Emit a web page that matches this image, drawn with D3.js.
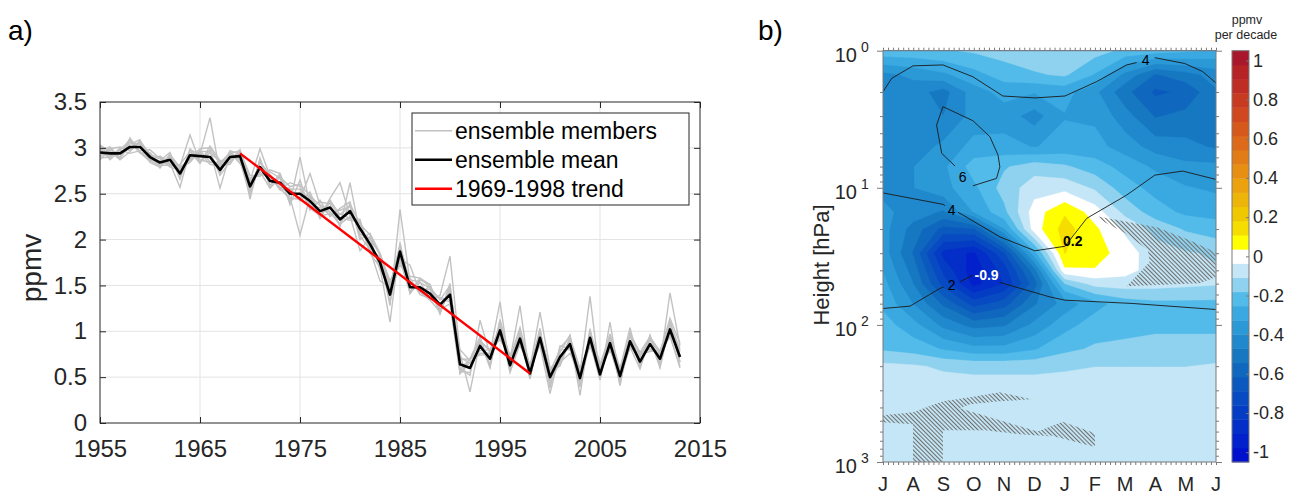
<!DOCTYPE html>
<html><head><meta charset="utf-8">
<script src="https://cdn.jsdelivr.net/npm/d3@7"></script>
<style>
body{margin:0;background:#fff;}
svg{display:block;}
text{font-family:"Liberation Sans",Arial,Helvetica,sans-serif;}
</style>
</head><body>
<svg id="chart" width="1289" height="495"></svg>
<script>
// ---------------- Panel a data ----------------
const years = d3.range(1955, 2014);
const ensembleMean = [
  2.95,2.94,2.94,3.01,3.01,2.90,2.84,2.87,2.72,2.92,
  2.91,2.90,2.76,2.90,2.91,2.58,2.79,2.64,2.62,2.50,
  2.50,2.42,2.31,2.35,2.22,2.31,2.12,1.95,1.75,1.40,
  1.87,1.48,1.48,1.41,1.29,1.40,0.64,0.60,0.84,0.70,
  1.01,0.63,0.92,0.54,0.93,0.50,0.72,0.86,0.49,0.93,
  0.53,0.87,0.51,0.89,0.67,0.86,0.70,1.02,0.72];
// deviations of individual members from the ensemble mean
const member1 = [0.03,-0.05,0.06,-0.02,0.05,-0.04,0.02,0.08,-0.05,0.06,0.02,0.43,-0.04,0.07,0.02,
  -0.05,0.08,-0.06,0.10,-0.04,-0.45,0.05,-0.08,0.06,0.02,-0.1,0.08,-0.05,0.06,-0.12,0.46,0.06,-0.04,0.05,-0.1,0.08,
  -0.06,0.1,-0.1,0.05,-0.08,0.12,-0.06,0.1,-0.04,0.08,-0.1,0.05,0.06,0.45,-0.05,0.08,0.05,-0.08,0.1,-0.06,0.05,0.1,-0.05];
const member2 = [-0.08,0.04,-0.04,0.06,-0.07,0.05,-0.03,-0.06,0.08,0.22,-0.07,0.05,0.09,-0.06,0.04,
  0.06,0.20,0.05,-0.07,0.12,0.08,-0.06,0.04,-0.08,0.10,0.05,-0.06,0.07,0.09,0.15,-0.1,0.08,0.06,-0.06,0.1,0.42,
  0.12,-0.26,0.05,0.1,-0.06,0.08,0.05,-0.06,0.1,-0.1,0.12,-0.05,0.08,-0.07,0.1,-0.08,0.06,0.07,-0.05,0.1,-0.06,0.40,0.12];
const member3 = [0.05,-0.07,0.03,0.08,-0.05,-0.03,0.07,-0.04,-0.15,0.05,-0.06,0.08,-0.20,0.03,-0.05,
  -0.1,0.05,0.07,-0.05,0.06,-0.08,0.1,-0.05,-0.07,0.06,-0.08,0.1,-0.1,-0.05,-0.30,0.1,-0.07,0.08,0.1,-0.05,-0.1,
  -0.1,0.06,-0.08,0.06,0.31,-0.05,0.1,0.08,-0.08,-0.18,0.05,0.1,-0.1,0.08,0.12,-0.08,0.1,-0.05,0.08,-0.08,0.1,-0.05,0.1];
const member4 = [-0.04,0.06,-0.06,0.03,0.08,-0.06,-0.05,0.04,0.06,-0.08,0.06,-0.05,0.05,-0.08,0.07,
  0.05,-0.07,0.1,0.05,-0.1,0.40,-0.05,0.1,0.04,-0.08,0.31,-0.06,0.05,0.1,0.05,-0.05,0.1,-0.08,-0.05,0.08,-0.06,
  0.05,0.1,0.06,-0.1,0.1,0.06,0.36,-0.05,0.06,0.08,-0.08,0.08,-0.19,0.1,-0.06,0.1,0.08,-0.06,-0.08,0.06,0.08,-0.08,-0.1];
const member5 = [0.07,-0.03,0.04,-0.07,-0.04,0.08,0.04,-0.08,0.04,-0.04,0.08,0.1,0.06,0.05,-0.08,
  0.08,-0.05,-0.08,0.06,0.08,0.1,0.06,-0.06,0.1,0.40,-0.05,-0.24,0.08,-0.08,0.1,0.05,-0.05,0.1,0.07,0.05,0.1,
  -0.05,-0.08,0.28,0.05,0.06,-0.08,-0.06,0.06,0.28,0.1,-0.06,-0.1,0.08,-0.1,0.08,0.05,-0.1,0.1,0.06,0.06,-0.1,0.06,0.06];
const member6 = [-0.05,0.05,0.07,-0.04,0.06,0.03,-0.06,0.05,-0.06,0.07,-0.04,-0.06,0.08,0.04,0.06,
  -0.14,0.1,-0.05,0.08,-0.05,-0.06,0.30,0.07,-0.05,-0.06,0.08,0.05,0.1,0.08,-0.08,-0.08,0.24,-0.06,0.08,-0.06,0.06,
  0.08,0.05,-0.05,0.1,-0.1,0.1,-0.08,0.1,-0.06,0.06,-0.05,0.06,0.1,-0.06,-0.06,0.23,-0.06,0.06,0.1,-0.05,0.06,0.08,0.08];
const member7 = [0.02,0.07,-0.05,0.10,-0.06,-0.05,0.05,-0.05,0.05,-0.06,0.05,0.06,-0.06,-0.05,0.05,
  0.07,-0.08,0.06,-0.08,0.05,0.05,-0.08,-0.05,0.08,0.05,0.06,-0.08,-0.06,-0.20,0.08,0.08,0.05,-0.05,-0.07,-0.08,0.05,
  0.16,0.08,0.05,-0.06,0.05,-0.06,0.06,-0.05,0.05,0.06,0.08,-0.06,-0.06,0.06,0.06,-0.05,0.08,0.15,-0.06,0.08,-0.08,0.06,-0.06];
const member8 = [-0.06,-0.04,0.05,0.05,0.03,-0.04,-0.04,0.06,0.07,-0.05,0.04,-0.08,0.04,0.06,-0.05,
  -0.06,0.06,0.05,-0.06,-0.06,-0.04,0.06,0.06,-0.05,-0.05,-0.06,0.06,-0.08,0.06,0.1,-0.1,-0.06,0.05,0.06,0.06,-0.08,
  -0.08,-0.05,0.06,0.08,0.05,-0.05,0.05,0.08,-0.08,-0.05,-0.06,0.06,-0.05,-0.06,0.05,-0.06,-0.05,-0.05,0.05,0.05,0.06,-0.06,-0.12];
const member9 = [0.08,0.02,-0.07,-0.05,0.07,0.02,0.06,-0.07,0.1,0.04,-0.08,0.12,0.1,-0.03,0.06,
  0.12,-0.1,0.12,0.1,-0.12,0.15,-0.1,0.12,-0.1,0.12,0.1,-0.12,0.12,0.1,0.12,-0.15,0.12,0.1,0.1,-0.1,0.12,
  -0.1,0.1,0.1,-0.08,0.12,0.08,0.12,0.06,0.1,-0.12,0.1,0.08,0.1,-0.08,0.1,0.1,-0.1,0.08,0.1,0.08,0.08,0.12,0.15];
const memberDeviations = [member1, member2, member3, member4, member5, member6, member7, member8, member9];
const trendYears = [1969, 1998];
const trendValues = [2.94, 0.54];
const xTicksA = [1955, 1965, 1975, 1985, 1995, 2005, 2015];
const yTicksA = [0, 0.5, 1, 1.5, 2, 2.5, 3, 3.5];
const legendLabels = ["ensemble members", "ensemble mean", "1969-1998 trend"];

// ---------------- Panel b data ----------------
const monthLabels = ["J","A","S","O","N","D","J","F","M","A","M","J"];
const pressureLevels = [1,1.5,2,3,5,7,10,15,20,30,40,50,70,100,150,200,300,500,700,1000];
// trend (ppmv per decade), rows = pressure levels, columns = Jul..Jun
const trendField = [
  [-0.20,-0.20,-0.19,-0.17,-0.15,-0.13,-0.12,-0.15,-0.20,-0.22,-0.24,-0.27],
  [-0.42,-0.38,-0.34,-0.28,-0.22,-0.19,-0.17,-0.26,-0.42,-0.55,-0.50,-0.44],
  [-0.44,-0.44,-0.50,-0.36,-0.30,-0.32,-0.30,-0.38,-0.52,-0.63,-0.60,-0.48],
  [-0.45,-0.44,-0.47,-0.37,-0.36,-0.43,-0.33,-0.34,-0.44,-0.55,-0.52,-0.50],
  [-0.46,-0.44,-0.38,-0.30,-0.30,-0.33,-0.30,-0.30,-0.36,-0.43,-0.45,-0.48],
  [-0.45,-0.40,-0.34,-0.22,-0.19,-0.14,-0.17,-0.22,-0.28,-0.34,-0.38,-0.38],
  [-0.42,-0.40,-0.35,-0.27,-0.15,-0.07,-0.06,-0.12,-0.22,-0.28,-0.32,-0.34],
  [-0.38,-0.43,-0.48,-0.32,-0.20, 0.00, 0.10, 0.00,-0.13,-0.22,-0.27,-0.28],
  [-0.37,-0.50,-0.64,-0.62,-0.33, 0.00, 0.14, 0.05,-0.05,-0.13,-0.19,-0.22],
  [-0.36,-0.55,-0.86,-0.92,-0.70,-0.28, 0.11, 0.07, 0.00,-0.08,-0.10,-0.12],
  [-0.33,-0.50,-0.78,-0.95,-0.80,-0.50, 0.02, 0.03,-0.01,-0.07,-0.08,-0.10],
  [-0.30,-0.47,-0.72,-0.93,-0.83,-0.58,-0.18,-0.08,-0.07,-0.08,-0.09,-0.10],
  [-0.27,-0.40,-0.56,-0.72,-0.65,-0.48,-0.37,-0.28,-0.22,-0.20,-0.20,-0.20],
  [-0.22,-0.30,-0.42,-0.50,-0.48,-0.38,-0.28,-0.22,-0.21,-0.20,-0.20,-0.20],
  [-0.19,-0.21,-0.26,-0.30,-0.30,-0.26,-0.20,-0.17,-0.16,-0.15,-0.15,-0.15],
  [-0.09,-0.10,-0.12,-0.13,-0.13,-0.13,-0.12,-0.11,-0.11,-0.11,-0.11,-0.10],
  [-0.07,-0.07,-0.07,-0.07,-0.07,-0.07,-0.07,-0.07,-0.07,-0.07,-0.07,-0.07],
  [-0.07,-0.07,-0.07,-0.07,-0.07,-0.07,-0.07,-0.07,-0.07,-0.07,-0.07,-0.07],
  [-0.07,-0.07,-0.07,-0.07,-0.07,-0.07,-0.07,-0.07,-0.07,-0.07,-0.07,-0.07],
  [-0.07,-0.07,-0.07,-0.07,-0.07,-0.07,-0.07,-0.07,-0.07,-0.07,-0.07,-0.07]
];
const colorRange = [-1.05, 1.05];
const bandColors = ["#0010cd","#0220cb","#032ec8","#053cc4","#084ac1","#0b59bf","#1068be","#1778c2",
  "#2088cc","#2c99d7","#3aa9e1","#52bbe9","#8fd2ef","#c4e6f6","#ffffff","#ffff00","#f6dd00","#f0c800",
  "#edb50a","#eba20e","#e78f12","#e27c16","#dc6a1a","#d6591c","#cf481f","#c73b21","#bf2e24","#b52327","#a8172c"];
const colorbarTicks = [1, 0.8, 0.6, 0.4, 0.2, 0, -0.2, -0.4, -0.6, -0.8, -1];
const decadeTicks = [1, 10, 100, 1000];
const decadeExponents = ["0", "1", "2", "3"];
// climatology contour lines [month index, hPa]
const climLines = [
  [[0,1.99],[0.29,1.59],[0.99,1.29],[1.98,1.27],[2.97,1.55],[3.96,2.14],[5.02,2.21],[6.01,2.14],[7.06,1.68],[8.05,1.27],[8.38,1.22]],
  [[8.98,1.125],[9.97,1.24],[10.56,1.42],[11,1.72]],
  [[2.38,6.94],[1.94,5.61],[1.77,3.49],[1.98,2.56],[2.97,3.24],[3.53,4.24],[3.80,5.77],[3.86,7.03],[3.75,8.54],[2.97,9.67]],
  [[0,10.9],[1.98,13.2],[2.05,13.5]],
  [[2.48,15.1],[2.64,15.8],[3.86,22.8],[5.02,28.8],[6.01,26.7],[6.73,16.7],[8.05,11.3],[8.98,8.08],[9.9,7.55],[10.99,8.68]],
  [[0,75.9],[0.89,73.0],[1.88,54.2],[2.0,53.0]],
  [[2.54,48.5],[2.97,43.4]],
  [[3.86,49.0],[5.51,62.5],[6.01,66.0],[8.25,69.8],[10.99,77.2]]
];
const climLabels = [
  {m: 8.68, p: 1.17, text: "4"},
  {m: 2.63, p: 8.31, text: "6"},
  {m: 2.27, p: 14.6, text: "4"},
  {m: 2.27, p: 51.3, text: "2"}
];
const valueLabels = [
  {m: 3.42, p: 43.4, text: "-0.9", color: "#ffffff"},
  {m: 6.27, p: 24.5, text: "0.2", color: "#000000"}
];
// significance hatching polygons [month index, hPa]
const hatchAreas = [
  [[0,456],[0.99,434],[1.98,361],[2.87,337],[3.86,310],[4.92,349],[3.86,361],[2.87,379],[2.54,406],[3.86,496],[5.18,607],[5.51,649],[4.52,628],[3.37,587],[1.98,587],[1.98,1000],[0.99,1000],[0.99,531],[0,513]],
  [[5.08,601],[5.94,508],[7.0,617],[7.0,778]],
  [[7.06,16.1],[9.04,19.4],[10.13,24.1],[10.99,29.5],[10.99,44.9],[10.46,49.6],[8.05,52.2],[8.81,34.8],[8.75,28.4],[7.99,21.4],[7.33,17.8]]
];

// ---------------- drawing ----------------
const svg = d3.select("#chart");
const axisColor = "#262626";

// ===== Panel a =====
const xA = d3.scaleLinear().domain([1955, 2015]).range([100, 700]);
const yA = d3.scaleLinear().domain([0, 3.5]).range([423, 102]);
const gA = svg.append("g");

gA.selectAll("line.vgrid").data(xTicksA.slice(1, -1)).join("line").attr("class","vgrid")
  .attr("x1", d => xA(d)).attr("x2", d => xA(d)).attr("y1", yA(0)).attr("y2", yA(3.5))
  .attr("stroke", "#e3e3e3").attr("stroke-width", 1);
gA.selectAll("line.hgrid").data(yTicksA.slice(1, -1)).join("line").attr("class","hgrid")
  .attr("x1", xA(1955)).attr("x2", xA(2015)).attr("y1", d => yA(d)).attr("y2", d => yA(d))
  .attr("stroke", "#e3e3e3").attr("stroke-width", 1);

const members = memberDeviations.map(dev => ensembleMean.map((m, i) => m + dev[i]));
const lineA = d3.line().x((d, i) => xA(years[i])).y(d => yA(d));
gA.selectAll("path.member").data(members).join("path").attr("class","member")
  .attr("d", lineA).attr("fill", "none").attr("stroke", "#c2c2c2").attr("stroke-width", 1.4);
gA.append("path").attr("d", lineA(ensembleMean)).attr("fill", "none")
  .attr("stroke", "#000").attr("stroke-width", 2.6).attr("stroke-linejoin", "round");
gA.append("path").attr("d", d3.line().x((d, i) => xA(trendYears[i])).y(d => yA(d))(trendValues))
  .attr("fill", "none").attr("stroke", "#ff0000").attr("stroke-width", 2.4);

function styleAxis(g, fs) {
  g.select(".domain").remove();
  g.selectAll(".tick line").attr("stroke", axisColor);
  g.selectAll(".tick text").attr("fill", axisColor).style("font-size", fs + "px")
    .style("font-family", '"Liberation Sans",Arial,sans-serif');
}
gA.append("g").attr("transform", `translate(0,${yA(0)})`)
  .call(d3.axisBottom(xA).tickValues(xTicksA).tickSize(-6).tickSizeOuter(0).tickPadding(17).tickFormat(d => String(d)))
  .call(g => styleAxis(g, 24));
gA.append("g").attr("transform", `translate(${xA(1955)},0)`)
  .call(d3.axisLeft(yA).tickValues(yTicksA).tickSize(-6).tickSizeOuter(0).tickPadding(13).tickFormat(d => String(d)))
  .call(g => styleAxis(g, 24));
gA.append("g").attr("transform", `translate(0,${yA(3.5)})`)
  .call(d3.axisTop(xA).tickValues(xTicksA).tickSize(-6).tickSizeOuter(0).tickFormat(""))
  .call(g => styleAxis(g, 24));
gA.append("g").attr("transform", `translate(${xA(2015)},0)`)
  .call(d3.axisRight(yA).tickValues(yTicksA).tickSize(-6).tickSizeOuter(0).tickFormat(""))
  .call(g => styleAxis(g, 24));
gA.append("rect").attr("x", xA(1955)).attr("y", yA(3.5)).attr("width", xA(2015) - xA(1955))
  .attr("height", yA(0) - yA(3.5)).attr("fill", "none").attr("stroke", axisColor).attr("stroke-width", 1);

gA.append("text").attr("transform", "translate(41,268) rotate(-90)").attr("text-anchor", "middle")
  .style("font-size", "28px").attr("fill", axisColor).text("ppmv");

// legend
const leg = gA.append("g");
leg.append("rect").attr("x", 412).attr("y", 113).attr("width", 277).attr("height", 92)
  .attr("fill", "#fff").attr("stroke", axisColor).attr("stroke-width", 1);
const legStyles = [{c: "#c2c2c2", w: 1.4}, {c: "#000", w: 2.6}, {c: "#ff0000", w: 2.4}];
legendLabels.forEach((lab, i) => {
  const yy = 130.7 + i * 29;
  leg.append("line").attr("x1", 415).attr("x2", 452).attr("y1", yy).attr("y2", yy)
    .attr("stroke", legStyles[i].c).attr("stroke-width", legStyles[i].w);
  leg.append("text").attr("x", 455).attr("y", yy + 8.5).style("font-size", "23px").attr("fill", "#000").text(lab);
});
svg.append("text").attr("x", 8).attr("y", 40).style("font-size", "28px").attr("fill", "#000").text("a)");

// ===== Panel b =====
const xB = d3.scaleLinear().domain([0, 11]).range([883, 1216]);
const yB = d3.scaleLog().domain([1, 1000]).range([50.7, 462]);
const gB = svg.append("g");
const defs = svg.append("defs");
defs.append("clipPath").attr("id", "clipB").append("rect")
  .attr("x", xB(0)).attr("y", yB(1)).attr("width", xB(11) - xB(0)).attr("height", yB(1000) - yB(1));
const pat = defs.append("pattern").attr("id", "hatch").attr("patternUnits", "userSpaceOnUse")
  .attr("width", 3).attr("height", 3).attr("patternTransform", "rotate(-45)");
pat.append("line").attr("x1", 0.5).attr("x2", 0.5).attr("y1", 0).attr("y2", 3)
  .attr("stroke", "#6e6e6e").attr("stroke-width", 1.1);

const nx = 12, ny = pressureLevels.length;
const logP = pressureLevels.map(Math.log10);
const nBands = bandColors.length;
const step = (colorRange[1] - colorRange[0]) / nBands;
const thresholds = [-10].concat(d3.range(1, nBands).map(k => colorRange[0] + k * step));
function gridToScreen(cx, cy) {
  const tx = Math.max(0, Math.min(nx - 1, cx - 0.5));
  const ty = Math.max(0, Math.min(ny - 1, cy - 0.5));
  const i = Math.min(ny - 2, Math.floor(ty)), f = ty - i;
  const lp = logP[i] * (1 - f) + logP[i + 1] * f;
  return [xB(tx), yB(Math.pow(10, lp))];
}
const proj = d3.geoTransform({point(x, y) { const p = gridToScreen(x, y); this.stream.point(p[0], p[1]); }});
const cpath = d3.geoPath(proj);
const contours = d3.contours().size([nx, ny]).thresholds(thresholds)(trendField.flat());
const plotB = gB.append("g").attr("clip-path", "url(#clipB)");
plotB.selectAll("path.band").data(contours).join("path").attr("class","band")
  .attr("d", cpath).attr("fill", (d, i) => bandColors[i]).attr("stroke", (d, i) => bandColors[i]).attr("stroke-width", 0.3);

const lineB = d3.line().x(d => xB(d[0])).y(d => yB(d[1]));
plotB.selectAll("path.hatch").data(hatchAreas).join("path").attr("class","hatch")
  .attr("d", d => lineB(d) + "Z").attr("fill", "url(#hatch)");
plotB.selectAll("path.clim").data(climLines).join("path").attr("class","clim")
  .attr("d", lineB).attr("fill", "none").attr("stroke", "#1a1a1a").attr("stroke-width", 0.9);
plotB.selectAll("text.clab").data(climLabels).join("text").attr("class","clab")
  .attr("x", d => xB(d.m)).attr("y", d => yB(d.p)).attr("dy", "0.36em").attr("text-anchor", "middle")
  .style("font-size", "14px").attr("fill", "#000").text(d => d.text);
plotB.selectAll("text.vlab").data(valueLabels).join("text").attr("class","vlab")
  .attr("x", d => xB(d.m)).attr("y", d => yB(d.p)).attr("dy", "0.36em").attr("text-anchor", "middle")
  .style("font-size", "14px").style("font-weight", "bold").attr("fill", d => d.color).text(d => d.text);

// frame and ticks
const tickCol = "#7a7a7a";
function styleB(g) { g.select(".domain").remove(); g.selectAll(".tick line").attr("stroke", tickCol); }
const minorP = [];
[1, 10, 100].forEach(b => d3.range(2, 10).forEach(m => minorP.push(b * m)));
const dayTicks = d3.range(0, 11 + 1e-9, 1 / 6);
gB.append("g").attr("transform", `translate(${xB(0)},0)`)
  .call(d3.axisLeft(yB).tickValues(minorP).tickSize(3).tickFormat("")).call(styleB);
gB.append("g").attr("transform", `translate(${xB(0)},0)`)
  .call(d3.axisLeft(yB).tickValues(decadeTicks).tickSize(6).tickFormat("")).call(styleB);
gB.append("g").attr("transform", `translate(${xB(11)},0)`)
  .call(d3.axisRight(yB).tickValues(minorP).tickSize(3).tickFormat("")).call(styleB);
gB.append("g").attr("transform", `translate(${xB(11)},0)`)
  .call(d3.axisRight(yB).tickValues(decadeTicks).tickSize(6).tickFormat("")).call(styleB);
gB.append("g").attr("transform", `translate(0,${yB(1000)})`)
  .call(d3.axisBottom(xB).tickValues(dayTicks).tickSize(3).tickFormat("")).call(styleB);
gB.append("g").attr("transform", `translate(0,${yB(1)})`)
  .call(d3.axisTop(xB).tickValues(dayTicks).tickSize(3).tickFormat("")).call(styleB);
gB.append("rect").attr("x", xB(0)).attr("y", yB(1)).attr("width", xB(11) - xB(0)).attr("height", yB(1000) - yB(1))
  .attr("fill", "none").attr("stroke", tickCol).attr("stroke-width", 1);

// month labels
gB.selectAll("text.mon").data(monthLabels).join("text").attr("class","mon")
  .attr("x", (d, i) => xB(i)).attr("y", 491).attr("text-anchor", "middle")
  .style("font-size", "20px").attr("fill", axisColor).text(d => d);
// decade labels 10^n
decadeTicks.forEach((p, i) => {
  gB.append("text").attr("x", 857).attr("y", yB(p) + 11).attr("text-anchor", "end")
    .style("font-size", "20px").attr("fill", axisColor).text("10");
  gB.append("text").attr("x", 861).attr("y", yB(p) + 1).attr("text-anchor", "start")
    .style("font-size", "14px").attr("fill", axisColor).text(decadeExponents[i]);
});
gB.append("text").attr("transform", "translate(829,265) rotate(-90)").attr("text-anchor", "middle")
  .style("font-size", "22px").attr("fill", axisColor).text("Height [hPa]");
svg.append("text").attr("x", 758).attr("y", 40).style("font-size", "28px").attr("fill", "#000").text("b)");

// colorbar
const cbY = d3.scaleLinear().domain(colorRange).range([462, 50.7]);
const cbX0 = 1232, cbX1 = 1249;
const cb = svg.append("g");
cb.selectAll("rect.cbband").data(bandColors).join("rect").attr("class","cbband")
  .attr("x", cbX0).attr("width", cbX1 - cbX0)
  .attr("y", (d, i) => cbY(colorRange[0] + (i + 1) * step))
  .attr("height", (d, i) => cbY(colorRange[0] + i * step) - cbY(colorRange[0] + (i + 1) * step) + 0.4)
  .attr("fill", d => d);
cb.append("g").attr("transform", `translate(${cbX1},0)`)
  .call(d3.axisRight(cbY).tickValues(colorbarTicks).tickSize(-3).tickSizeOuter(0).tickPadding(4).tickFormat(d => String(d)))
  .call(g => { styleB(g); g.selectAll(".tick text").style("font-size", "18px").attr("fill", axisColor)
    .style("font-family", '"Liberation Sans",Arial,sans-serif'); });
cb.append("rect").attr("x", cbX0).attr("y", cbY(colorRange[1])).attr("width", cbX1 - cbX0)
  .attr("height", cbY(colorRange[0]) - cbY(colorRange[1])).attr("fill", "none").attr("stroke", tickCol).attr("stroke-width", 1);
cb.append("text").attr("x", 1247).attr("y", 24).attr("text-anchor", "middle").style("font-size", "12.5px").attr("fill", axisColor).text("ppmv");
cb.append("text").attr("x", 1246).attr("y", 39).attr("text-anchor", "middle").style("font-size", "12.5px").attr("fill", axisColor).text("per decade");
</script>
</body></html>
